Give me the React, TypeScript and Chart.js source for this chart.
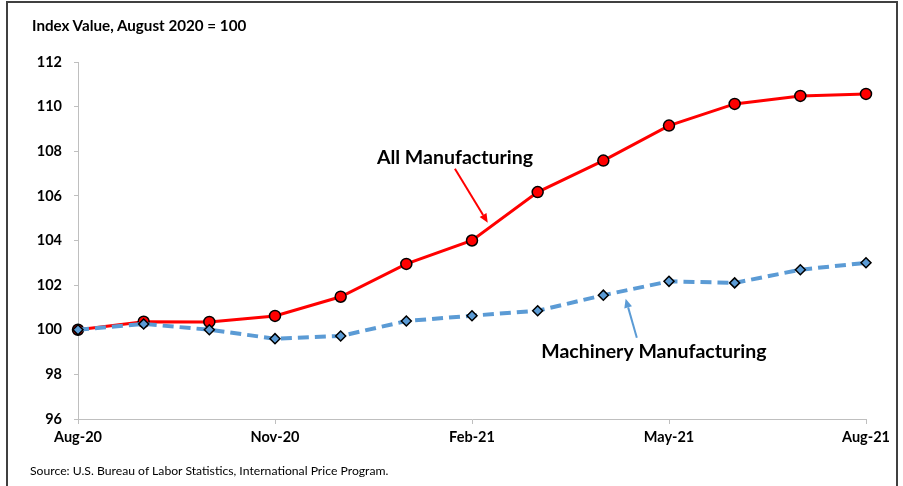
import React, { useEffect, useRef } from "react";
import { Chart, registerables } from "chart.js";

Chart.register(...registerables);

const months = ["Aug-20", "Sep-20", "Oct-20", "Nov-20", "Dec-20", "Jan-21", "Feb-21", "Mar-21", "Apr-21", "May-21", "Jun-21", "Jul-21", "Aug-21"];
const allManufacturing = [100.0, 100.36, 100.35, 100.62, 101.48, 102.95, 104.0, 106.17, 107.58, 109.15, 110.12, 110.48, 110.57];
const machineryManufacturing = [100.0, 100.26, 100.0, 99.6, 99.72, 100.39, 100.63, 100.85, 101.55, 102.17, 102.1, 102.69, 103.0];
const yMin = 96;
const yMax = 112;
const yStep = 2;
const labelEvery = 3;
const titleText = "Index Value, August 2020 = 100";
const sourceText = "Source: U.S. Bureau of Labor Statistics, International Price Program.";
const seriesNames = ["All Manufacturing", "Machinery Manufacturing"];

const RED = "#ff0000";
const BLUE = "#5b9bd5";
const FONT = "Lato, 'Open Sans', sans-serif";

// annotation anchors in data space (category index, value)
const notes = [
  { text: seriesNames[0], color: RED, tx: 5.74, ty: 107.71, from: [5.74, 107.22], to: [6.24, 104.8] },
  { text: seriesNames[1], color: BLUE, tx: 8.77, ty: 99.01, from: [8.51, 99.64], to: [8.34, 101.39] },
];

const annotationPlugin = {
  id: "notes",
  afterDatasetsDraw(chart: any) {
    const { ctx, scales } = chart;
    const xs = scales.x;
    const ys = scales.y;
    ctx.save();
    for (const n of notes) {
      const x1 = xs.getPixelForValue(n.from[0]);
      const y1 = ys.getPixelForValue(n.from[1]);
      const x2 = xs.getPixelForValue(n.to[0]);
      const y2 = ys.getPixelForValue(n.to[1]);
      const ang = Math.atan2(y2 - y1, x2 - x1);
      const head = 9;
      const hw = 4;
      const bx = x2 - head * Math.cos(ang);
      const by = y2 - head * Math.sin(ang);
      ctx.strokeStyle = n.color;
      ctx.fillStyle = n.color;
      ctx.lineWidth = 2;
      ctx.beginPath();
      ctx.moveTo(x1, y1);
      ctx.lineTo(bx, by);
      ctx.stroke();
      ctx.beginPath();
      ctx.moveTo(x2, y2);
      ctx.lineTo(bx + hw * Math.sin(ang), by - hw * Math.cos(ang));
      ctx.lineTo(bx - hw * Math.sin(ang), by + hw * Math.cos(ang));
      ctx.closePath();
      ctx.fill();
      ctx.fillStyle = "#000000";
      ctx.font = "bold 19.5px " + FONT;
      ctx.textAlign = "center";
      ctx.textBaseline = "middle";
      ctx.fillText(n.text, xs.getPixelForValue(n.tx), ys.getPixelForValue(n.ty));
    }
    ctx.restore();
  },
};

export default function App() {
  const ref = useRef<HTMLCanvasElement | null>(null);

  useEffect(() => {
    if (!ref.current) return;
    const chart = new Chart(ref.current, {
      type: "line",
      data: {
        labels: months,
        datasets: [
          {
            label: seriesNames[1],
            data: machineryManufacturing,
            borderColor: BLUE,
            borderWidth: 4,
            borderDash: [11, 6],
            pointStyle: "rectRot",
            pointRadius: 5,
            pointBackgroundColor: BLUE,
            pointBorderColor: "#000000",
            pointBorderWidth: 1.5,
            tension: 0,
            order: 0,
          },
          {
            label: seriesNames[0],
            data: allManufacturing,
            borderColor: RED,
            borderWidth: 3,
            pointStyle: "circle",
            pointRadius: 5.5,
            pointBackgroundColor: RED,
            pointBorderColor: "#000000",
            pointBorderWidth: 1.5,
            tension: 0,
            order: 1,
          },
        ],
      },
      options: {
        animation: false,
        responsive: false,
        maintainAspectRatio: false,
        layout: { padding: { left: 0, top: 62, right: 37, bottom: 27 } },
        plugins: { legend: { display: false }, tooltip: { enabled: false } },
        scales: {
          x: {
            type: "category",
            offset: false,
            afterFit: (s: any) => {
              s.height = 40;
            },
            border: { display: true, color: "#bfbfbf", width: 1 },
            grid: {
              drawOnChartArea: false,
              drawTicks: true,
              tickLength: 5,
              tickColor: (c: any) => (c.index % labelEvery === 0 ? "#bfbfbf" : "rgba(0,0,0,0)"),
            },
            ticks: {
              autoSkip: false,
              maxRotation: 0,
              padding: 5,
              color: "#000000",
              font: { family: FONT, size: 14.5, weight: "bold" },
              callback: (_v: any, i: number) => (i % labelEvery === 0 ? months[i] : ""),
            },
          },
          y: {
            min: yMin,
            max: yMax,
            afterFit: (s: any) => {
              s.width = 78;
            },
            border: { display: true, color: "#bfbfbf", width: 1 },
            grid: { drawOnChartArea: false, drawTicks: true, tickLength: 4, tickColor: "#bfbfbf" },
            ticks: {
              stepSize: yStep,
              padding: 12,
              color: "#000000",
              font: { family: FONT, size: 14.5, weight: "bold" },
            },
          },
        },
      },
      plugins: [annotationPlugin],
    });
    return () => chart.destroy();
  }, []);

  return (
    <div style={{ position: "fixed", left: 0, top: 0, width: 903, height: 486, background: "#ffffff", overflow: "hidden" }}>
      <div
        style={{
          position: "absolute",
          left: 6,
          top: 1,
          width: 888,
          height: 520,
          border: "2px solid #404040",
        }}
      />
      <canvas ref={ref} width={903} height={486} style={{ position: "absolute", left: 0, top: 0, width: 903, height: 486 }} />
      <div
        style={{
          position: "absolute",
          left: 32,
          top: 16,
          fontFamily: FONT,
          fontWeight: "bold",
          fontSize: 15.2,
          color: "#000000",
          whiteSpace: "nowrap",
        }}
      >
        {titleText}
      </div>
      <div
        style={{
          position: "absolute",
          left: 30,
          top: 463,
          fontFamily: FONT,
          fontSize: 12.2,
          color: "#000000",
          whiteSpace: "nowrap",
        }}
      >
        {sourceText}
      </div>
    </div>
  );
}
